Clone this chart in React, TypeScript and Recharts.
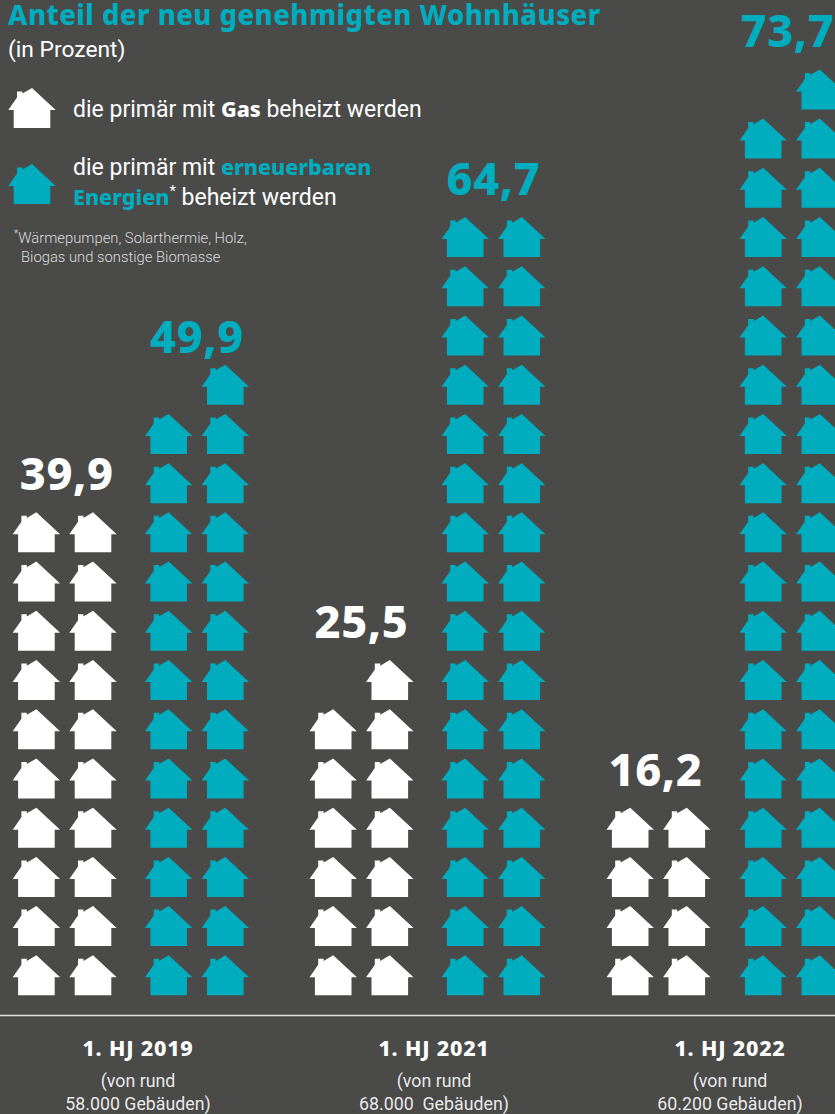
import React from "react";
import { BarChart, Bar, XAxis, YAxis, LabelList } from "recharts";

const periods = ["1. HJ 2019", "1. HJ 2021", "1. HJ 2022"];
const buildingCounts = ["58.000 Gebäuden)", "68.000  Gebäuden)", "60.200 Gebäuden)"];
const gasShares = [39.9, 25.5, 16.2];
const renewableShares = [49.9, 64.7, 73.7];

const GAS_COLOR = "#ffffff";
const RENEWABLE_COLOR = "#00adbf";
const BACKGROUND = "#4a4a49";
const FONT = "Roboto, 'Noto Sans', sans-serif";
const HEAVY_FONT = "'Noto Sans', Roboto, sans-serif";

// One house stands for two percentage points; houses are stacked in rows of two.
const PERCENT_PER_HOUSE = 2;
const PERCENT_PER_ROW = 4;
const COLUMN_OFFSET = 28.3;

const gasCenters = [64.7, 361.5, 658.5];
const renewableCenters = [197, 493.5, 791.5];
const groupCenters = [138, 434, 730];

const rows = [0, 1, 2].flatMap((i) => [
  { center: gasCenters[i], share: gasShares[i], color: GAS_COLOR },
  { center: renewableCenters[i], share: renewableShares[i], color: RENEWABLE_COLOR },
]);

// Extra gap between figure and houses is smaller above the 49,9 column.
const labelGap = (share: number) => (share === 49.9 ? 12 : 22);
// A few figures sit slightly off the centre of their columns.
const labelShift = (share: number) =>
  share === 73.7 ? -4 : share === 16.2 ? -3 : share === 39.9 ? 2 : 0;

function House({ cx, bottom, color }: { cx: number; bottom: number; color: string }) {
  const t = bottom - 40;
  const d = [
    `M${cx - 23.7} ${bottom - 18}`,
    `L${cx - 15} ${t + 9.5}`,
    `V${t + 3.5}`,
    `H${cx - 9.6}`,
    `V${t + 5.6}`,
    `L${cx} ${t}`,
    `L${cx + 23.7} ${bottom - 18}`,
    `H${cx + 18.3}`,
    `V${bottom}`,
    `H${cx - 18.3}`,
    `V${bottom - 18}`,
    "Z",
  ].join(" ");
  return <path d={d} fill={color} />;
}

const rowPitch = (height: number, share: number) => (height / share) * PERCENT_PER_ROW;

function HouseStack(props: any) {
  const { x, y, width, height, payload } = props;
  const { share, color } = payload;
  const count = Math.round(share / PERCENT_PER_HOUSE);
  const pitch = rowPitch(height, share);
  const cx = x + width / 2;
  const base = y + height;
  const houses = [];
  for (let n = 0; n < count; n++) {
    const row = Math.floor(n / 2);
    // A lone house in the top row sits on the right-hand column.
    const side = n % 2 === 0 && n === count - 1 ? 1 : n % 2 === 0 ? -1 : 1;
    houses.push(
      <House key={n} cx={cx + side * COLUMN_OFFSET} bottom={base - row * pitch} color={color} />
    );
  }
  return <g>{houses}</g>;
}

function ShareLabel(props: any) {
  const { x, y, width, height, index } = props;
  const { share, color } = rows[index];
  const count = Math.round(share / PERCENT_PER_HOUSE);
  const topRow = Math.ceil(count / 2) - 1;
  const apex = y + height - topRow * rowPitch(height, share) - 40;
  return (
    <text
      x={x + width / 2 + labelShift(share)}
      y={apex - labelGap(share)}
      textAnchor="middle"
      fontFamily={HEAVY_FONT}
      fontWeight={800}
      fontSize={45}
      letterSpacing={0.6}
      fill={color}
    >
      {String(share).replace(".", ",")}
    </text>
  );
}

function PeriodTick(props: any) {
  const { x, payload } = props;
  const i = groupCenters.indexOf(payload.value);
  return (
    <g fontFamily={FONT} textAnchor="middle" fill="#ffffff">
      <text x={x} y={1056} fontFamily={HEAVY_FONT} fontSize={21.5} fontWeight={800} letterSpacing={0.8}>
        {periods[i]}
      </text>
      <text x={x} y={1087} fontSize={17.8} fillOpacity={0.9}>
        (von rund
      </text>
      <text x={x} y={1109.5} fontSize={17.8} fillOpacity={0.9} style={{ whiteSpace: "pre" }}>
        {buildingCounts[i]}
      </text>
    </g>
  );
}

const textBase: React.CSSProperties = {
  position: "absolute",
  fontFamily: FONT,
  color: "#ffffff",
  whiteSpace: "nowrap",
};

const strong: React.CSSProperties = { fontFamily: HEAVY_FONT, fontWeight: 800, fontSize: 21.5 };

function LegendIcon({ color, top }: { color: string; top: number }) {
  return (
    <svg width={60} height={50} style={{ position: "absolute", left: 0, top }}>
      <House cx={32} bottom={44} color={color} />
    </svg>
  );
}

export default function App() {
  return (
    <div
      style={{
        position: "absolute",
        left: 0,
        top: 0,
        width: 835,
        height: 1114,
        background: BACKGROUND,
        overflow: "hidden",
      }}
    >
      <BarChart
        width={835}
        height={1114}
        data={rows}
        margin={{ top: 0, right: 0, bottom: 0, left: 0 }}
        barSize={104}
      >
        <XAxis
          type="number"
          dataKey="center"
          domain={[0, 835]}
          ticks={groupCenters}
          interval={0}
          height={98.6}
          tickLine={false}
          axisLine={{ stroke: "#dedede", strokeWidth: 1.5 }}
          tick={<PeriodTick />}
          allowDataOverflow
        />
        <YAxis hide type="number" domain={[-1.63, 80.89]} width={0} allowDataOverflow />
        <Bar dataKey="share" shape={<HouseStack />} isAnimationActive={false}>
          <LabelList dataKey="share" content={<ShareLabel />} />
        </Bar>
      </BarChart>

      <div style={{ ...textBase, left: 8, top: 0, lineHeight: "30px", fontFamily: HEAVY_FONT, fontSize: 27.5, fontWeight: 800, color: RENEWABLE_COLOR, letterSpacing: 0.45 }}>
        Anteil der neu genehmigten Wohnhäuser
      </div>
      <div style={{ ...textBase, left: 8, top: 36, fontSize: 22.8 }}>(in Prozent)</div>

      <LegendIcon color={GAS_COLOR} top={84.3} />
      <div style={{ ...textBase, left: 73, top: 94, fontSize: 23 }}>
        die primär mit <b style={strong}>Gas</b> beheizt werden
      </div>

      <LegendIcon color={RENEWABLE_COLOR} top={160} />
      <div style={{ ...textBase, left: 73, top: 152, fontSize: 23 }}>
        die primär mit <b style={{ ...strong, color: RENEWABLE_COLOR }}>erneuerbaren</b>
      </div>
      <div style={{ ...textBase, left: 73, top: 182, fontSize: 23 }}>
        <b style={{ ...strong, color: RENEWABLE_COLOR }}>Energien</b>
        <sup style={{ fontSize: 15, lineHeight: 0 }}>*</sup> beheizt werden
      </div>

      <div style={{ ...textBase, left: 14, top: 229, fontSize: 14.8, fontWeight: 300, color: "#dcdcdc" }}>
        <sup style={{ fontSize: 10, lineHeight: 0 }}>*</sup>Wärmepumpen, Solarthermie, Holz,
      </div>
      <div style={{ ...textBase, left: 21, top: 248, fontSize: 14.8, fontWeight: 300, color: "#dcdcdc" }}>
        Biogas und sonstige Biomasse
      </div>
    </div>
  );
}
